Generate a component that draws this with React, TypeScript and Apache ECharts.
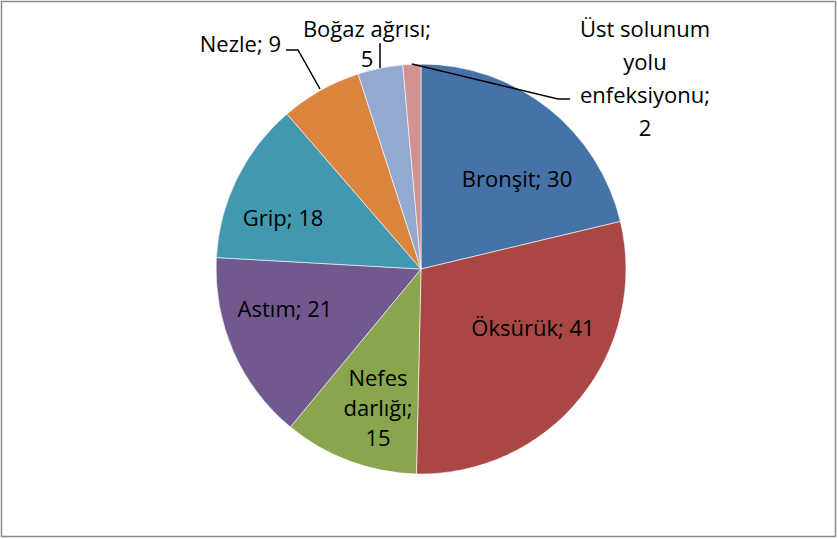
import { useEffect, useRef } from 'react';
import * as echarts from 'echarts';

const categories = [
  'Bronşit',
  'Öksürük',
  'Nefes darlığı',
  'Astım',
  'Grip',
  'Nezle',
  'Boğaz ağrısı',
  'Üst solunum yolu enfeksiyonu',
];
const values = [30, 41, 15, 21, 18, 9, 5, 2];
const colors = ['#4572A7', '#AA4643', '#89A54E', '#71588F', '#4198AF', '#DB843D', '#93A9CF', '#D19392'];
const labelFormats = [
  '{b}; {c}',
  '{b}; {c}',
  'Nefes\ndarlığı;\n{c}',
  '{b}; {c}',
  '{b}; {c}',
  '{b}; {c}',
  '{b};\n{c}',
  'Üst solunum\nyolu\nenfeksiyonu;\n{c}',
];

// label placement (layout only)
const labelPlaces: [number, number, 'left' | 'center' | 'right', number][] = [
  [517, 178, 'center', 30],
  [533, 327, 'center', 30],
  [378, 407, 'center', 30],
  [285, 308, 'center', 30],
  [283, 217, 'center', 30],
  [281, 43, 'right', 30],
  [367, 43, 'center', 30],
  [645, 77, 'center', 33],
];
const leaderLines: number[][][] = [
  [[320, 89], [298, 50], [286, 50]],
  [[380, 68], [380, 43]],
  [[412, 64], [558, 99], [570, 99]],
];

export default function App() {
  const ref = useRef<HTMLDivElement>(null);
  useEffect(() => {
    document.body.style.margin = '0';
    const chart = echarts.init(ref.current!, null, { renderer: 'svg' });
    const data = categories.map((name, i) => ({
      name,
      value: values[i],
      itemStyle: { color: colors[i] },
      label: {
        formatter: labelFormats[i],
        lineHeight: labelPlaces[i][3],
        align: labelPlaces[i][2],
      },
    }));
    chart.setOption({
      animation: false,
      backgroundColor: '#ffffff',
      graphic: [
        {
          type: 'rect',
          shape: { x: 1.5, y: 1.5, width: 834, height: 535 },
          style: { fill: 'none', stroke: '#8a8a8a', lineWidth: 1.5 },
          silent: true,
        },
        ...leaderLines.map((pts) => ({
          type: 'polyline',
          z: 100,
          shape: { points: pts },
          style: { fill: 'none', stroke: '#000000', lineWidth: 1.5 },
          silent: true,
        })),
      ],
      series: [
        {
          type: 'pie',
          center: [421, 269],
          radius: [0, 205],
          startAngle: 90,
          clockwise: true,
          data,
          itemStyle: { borderColor: '#ffffff', borderWidth: 0.6 },
          label: {
            show: true,
            position: 'outside',
            color: '#000000',
            fontFamily: 'Open Sans',
            fontSize: 22,
          },
          labelLine: { show: false },
          labelLayout: (params: any) => {
            const p = labelPlaces[params.dataIndex];
            return {
              x: p[0],
              y: p[1],
              align: p[2],
              verticalAlign: 'middle',
            };
          },
        },
      ],
    });
    return () => chart.dispose();
  }, []);
  return <div ref={ref} style={{ width: 838, height: 539 }} />;
}
